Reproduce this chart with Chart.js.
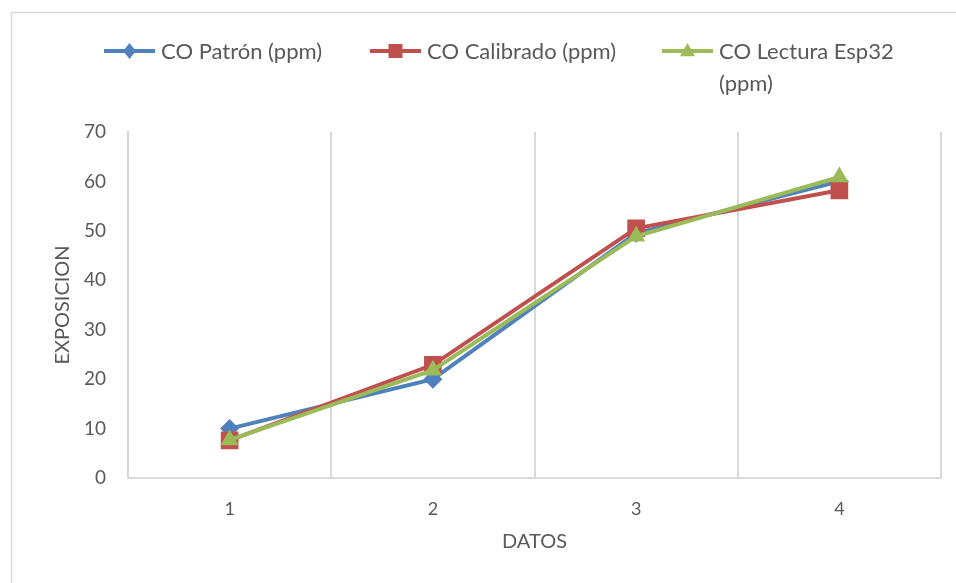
<!DOCTYPE html>
<html>
<head>
<meta charset="utf-8">
<script src="https://cdn.jsdelivr.net/npm/chart.js@4"></script>
<style>
  body { margin: 0; background: #fff; }
  canvas { display: block; }
</style>
</head>
<body>
<canvas id="myChart" width="956" height="583"></canvas>
<script>
// datos
const categorias = ['1', '2', '3', '4'];
const coPatron = [10, 20, 49.5, 60];
const coCalibrado = [7.6, 22.9, 50.5, 58.2];
const coEsp32 = [7.7, 21.8, 48.9, 60.9];
const nombres = ['CO Patrón (ppm)', 'CO Calibrado (ppm)', ['CO Lectura Esp32', '(ppm)']];

const azul = '#4f81bd';
const rojo = '#c0504d';
const verde = '#9bbb59';
const gris = '#595959';
const fuente = 'Lato, "Open Sans", sans-serif';

const ctx = document.getElementById('myChart');

// marco exterior gris
const marco = {
  id: 'marco',
  beforeDraw(chart) {
    const c = chart.ctx;
    c.save();
    c.fillStyle = '#fff';
    c.fillRect(0, 0, chart.width, chart.height);
    c.strokeStyle = '#d9d9d9';
    c.lineWidth = 1.5;
    c.strokeRect(11.5, 12.5, chart.width + 20, chart.height + 20);
    c.restore();
  }
};

function dibujarMarcador(c, estilo, x, y, r) {
  c.beginPath();
  if (estilo === 'rectRot') {
    c.moveTo(x, y - r); c.lineTo(x + r * 0.8, y); c.lineTo(x, y + r); c.lineTo(x - r * 0.8, y);
  } else if (estilo === 'rect') {
    c.rect(x - r, y - r, 2 * r, 2 * r);
  } else {
    c.moveTo(x, y - r); c.lineTo(x + r * 0.95, y + r * 0.65); c.lineTo(x - r * 0.95, y + r * 0.65);
  }
  c.closePath();
  c.fill();
}

// leyenda a mano (la tercera etiqueta va en dos lineas)
const leyenda = {
  id: 'leyenda',
  afterDraw(chart) {
    const c = chart.ctx;
    const posX = [104, 370, 662];
    const y = 51;
    c.save();
    chart.data.datasets.forEach((ds, i) => {
      const x0 = posX[i];
      c.strokeStyle = ds.borderColor;
      c.fillStyle = ds.borderColor;
      c.lineWidth = 4;
      c.beginPath();
      c.moveTo(x0, y);
      c.lineTo(x0 + 51, y);
      c.stroke();
      dibujarMarcador(c, ds.pointStyle, x0 + 25.5, y, ds.pointStyle === 'rect' ? 7 : 8);
      c.fillStyle = gris;
      c.font = '22px ' + fuente;
      c.textBaseline = 'middle';
      c.textAlign = 'left';
      const lineas = Array.isArray(nombres[i]) ? nombres[i] : [nombres[i]];
      lineas.forEach((t, j) => c.fillText(t, x0 + 57, y + 1 + j * 32));
    });
    c.restore();
  }
};

new Chart(ctx, {
  type: 'line',
  data: {
    labels: categorias,
    datasets: [
      {
        label: 'CO Patrón (ppm)',
        data: coPatron,
        borderColor: azul,
        backgroundColor: azul,
        pointStyle: 'rectRot',
        pointRadius: 9.5,
        borderWidth: 4,
        pointBorderWidth: 0,
        order: 3
      },
      {
        label: 'CO Calibrado (ppm)',
        data: coCalibrado,
        borderColor: rojo,
        backgroundColor: rojo,
        pointStyle: 'rect',
        pointRadius: 12.5,
        borderWidth: 4,
        pointBorderWidth: 0,
        order: 2
      },
      {
        label: 'CO Lectura Esp32 (ppm)',
        data: coEsp32,
        borderColor: verde,
        backgroundColor: verde,
        pointStyle: 'triangle',
        pointRadius: 10.5,
        borderWidth: 4,
        pointBorderWidth: 0,
        order: 1
      }
    ]
  },
  options: {
    responsive: false,
    animation: false,
    layout: { padding: { top: 132, left: 0, right: 15, bottom: 0 } },
    plugins: {
      legend: { display: false },
      tooltip: { enabled: false }
    },
    scales: {
      x: {
        offset: true,
        grid: { offset: true, color: '#d9d9d9', lineWidth: 2, drawTicks: false },
        border: { display: true, color: '#d9d9d9', width: 2 },
        ticks: { color: gris, font: { family: fuente, size: 18 }, padding: 20 },
        title: { display: true, text: 'DATOS', color: gris, font: { family: fuente, size: 20 }, padding: { bottom: 29 } },
        afterFit(scale) { scale.height = 105; }
      },
      y: {
        min: 0,
        max: 70,
        grid: { display: false, drawTicks: false },
        border: { display: true, color: '#d9d9d9', width: 2 },
        ticks: { stepSize: 10, color: gris, font: { family: fuente, size: 19 }, padding: 22 },
        title: { display: true, text: 'EXPOSICION', color: gris, font: { family: fuente, size: 20 }, padding: { top: 51 } },
        afterFit(scale) { scale.width = 128; }
      }
    }
  },
  plugins: [marco, leyenda]
});
</script>
</body>
</html>
